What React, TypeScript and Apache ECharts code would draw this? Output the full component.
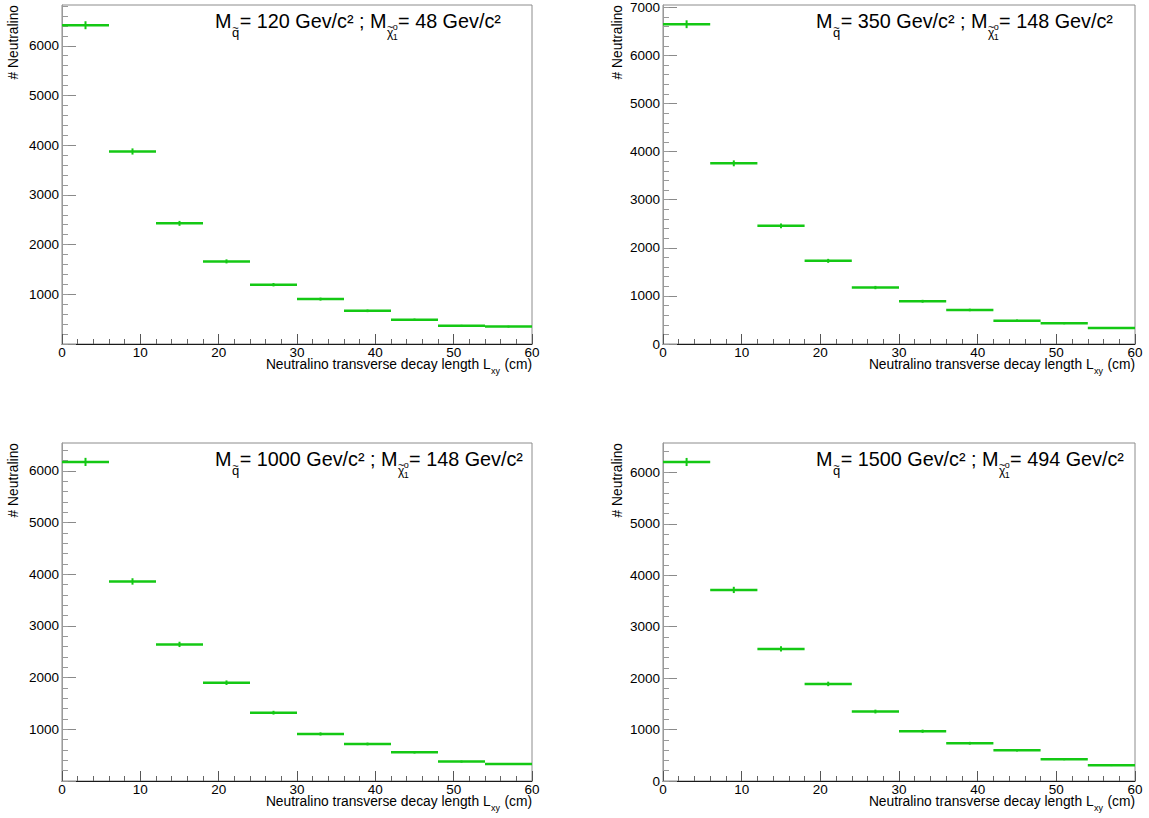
import React, { useEffect, useRef } from "react";
import * as echarts from "echarts";

// ---------------- data ----------------
const BIN_EDGES = [0, 6, 12, 18, 24, 30, 36, 42, 48, 54, 60];
const COUNTS_SQ120 = [6413, 3873, 2427, 1662, 1193, 903, 667, 490, 367, 350];
const COUNTS_SQ350 = [6650, 3757, 2458, 1729, 1174, 889, 708, 486, 431, 333];
const COUNTS_SQ1000 = [6174, 3861, 2643, 1902, 1322, 910, 716, 555, 375, 330];
const COUNTS_SQ1500 = [6201, 3714, 2567, 1887, 1350, 968, 734, 598, 424, 307];
const SQUARK_MASS = ["120", "350", "1000", "1500"];
const NEUTRALINO_MASS = ["48", "148", "148", "494"];
const X_TICKS = [0, 10, 20, 30, 40, 50, 60];
const Y_LABELS_1 = [1000, 2000, 3000, 4000, 5000, 6000];
const Y_LABELS_2 = [0, 1000, 2000, 3000, 4000, 5000, 6000, 7000];
const Y_LABELS_3 = [1000, 2000, 3000, 4000, 5000, 6000];
const Y_LABELS_4 = [0, 1000, 2000, 3000, 4000, 5000, 6000];
const Y_MAX = [6820, 7050, 6540, 6570];
const X_TITLE_MAIN = "Neutralino transverse decay length L";
const X_TITLE_SUB = "xy";
const X_TITLE_END = " (cm)";
const Y_TITLE = "# Neutralino";

// ---------------- layout / style ----------------
const PANELS = [
  { left: 62, top: 5, width: 470, height: 339, yTitleX: 13.7 },
  { left: 663, top: 5, width: 472, height: 339, yTitleX: 617.5 },
  { left: 62, top: 443, width: 470, height: 338, yTitleX: 13.7 },
  { left: 663, top: 443, width: 472, height: 338, yTitleX: 617 },
];
const ALL_COUNTS = [COUNTS_SQ120, COUNTS_SQ350, COUNTS_SQ1000, COUNTS_SQ1500];
const ALL_Y_LABELS = [Y_LABELS_1, Y_LABELS_2, Y_LABELS_3, Y_LABELS_4];
const FONT = '"Liberation Sans", Arial, Helvetica, sans-serif';
const GREEN = "#14c814";
const LABEL_SIZE = 13.5;
const AXIS_TITLE_SIZE = 13.8;
const BIG = 19.8;

export default function App() {
  const ref = useRef<HTMLDivElement>(null);

  useEffect(() => {
    if (!ref.current) return;
    const chart = echarts.init(ref.current, undefined, { renderer: "svg" });

    const canvas = document.createElement("canvas");
    const ctx = canvas.getContext("2d")!;
    const tw = (t: string, size: number) => {
      ctx.font = `${size}px "Liberation Sans"`;
      return ctx.measureText(t).width;
    };
    const txt = (
      x: number,
      baseline: number,
      text: string,
      size: number,
      align: string = "left"
    ) => ({
      type: "text",
      x,
      y: baseline - 0.35 * size,
      silent: true,
      style: {
        text,
        fontSize: size,
        fontFamily: FONT,
        fill: "#000",
        align,
        verticalAlign: "middle",
      },
    });

    const grids: any[] = [];
    const xAxes: any[] = [];
    const yAxes: any[] = [];
    const minorYAxes: any[] = [];
    const series: any[] = [];
    const graphics: any[] = [];

    PANELS.forEach((p, i) => {
      const ymax = Y_MAX[i];
      const majors: number[] = [];
      for (let v = 0; v <= ymax; v += 1000) majors.push(v);
      const minors: number[] = [];
      for (let v = 0; v <= ymax; v += 200) minors.push(v);

      grids.push({
        left: p.left,
        top: p.top,
        width: p.width,
        height: p.height,
        show: true,
        borderColor: "#8c8c8c",
        borderWidth: 1,
        backgroundColor: "transparent",
      });
      xAxes.push({
        gridIndex: i,
        type: "value",
        position: "bottom",
        min: 0,
        max: 60,
        interval: 10,
        axisLine: { show: true, onZero: false, lineStyle: { color: "#1a1a1a", width: 1 } },
        axisTick: {
          show: true,
          inside: true,
          length: 10,
          customValues: X_TICKS,
          lineStyle: { color: "#555", width: 1 },
        },
        minorTick: { show: true, splitNumber: 5, length: 5, lineStyle: { color: "#666", width: 1 } },
        axisLabel: {
          customValues: X_TICKS,
          formatter: (v: number) => String(v),
          margin: 1.5,
          color: "#000",
          fontSize: LABEL_SIZE,
          fontFamily: FONT,
        },
        splitLine: { show: false },
      });
      yAxes.push({
        gridIndex: i,
        type: "value",
        position: "left",
        offset: 0,
        min: 0,
        max: ymax,
        interval: 1000,
        axisLine: { show: true, onZero: false, lineStyle: { color: "#9a9a9a", width: 1 } },
        axisTick: {
          show: true,
          inside: true,
          length: 14,
          customValues: majors,
          lineStyle: { color: "#8a8a8a", width: 1 },
        },
        axisLabel: {
          customValues: ALL_Y_LABELS[i],
          formatter: (v: number) => String(v),
          margin: 3,
          color: "#000",
          fontSize: LABEL_SIZE,
          fontFamily: FONT,
        },
        splitLine: { show: false },
      });
      minorYAxes.push({
        gridIndex: i,
        type: "value",
        position: "left",
        offset: 0,
        min: 0,
        max: ymax,
        interval: 200,
        axisLine: { show: false },
        axisTick: {
          show: true,
          inside: true,
          length: 6,
          customValues: minors,
          lineStyle: { color: "#999", width: 1 },
        },
        axisLabel: { show: false },
        splitLine: { show: false },
      });

      series.push({
        type: "custom",
        xAxisIndex: i,
        yAxisIndex: i,
        encode: { x: [0, 1], y: 2 },
        data: ALL_COUNTS[i].map((c, k) => [BIN_EDGES[k], BIN_EDGES[k + 1], c]),
        renderItem: (params: any, api: any) => {
          const x0 = api.value(0);
          const x1 = api.value(1);
          const y = api.value(2);
          const err = Math.sqrt(y);
          const p0 = api.coord([x0, y]);
          const p1 = api.coord([x1, y]);
          const xc = (x0 + x1) / 2;
          const e0 = api.coord([xc, y - err]);
          const e1 = api.coord([xc, y + err]);
          return {
            type: "group",
            children: [
              {
                type: "line",
                shape: { x1: p0[0], y1: p0[1], x2: p1[0], y2: p1[1] },
                style: { stroke: GREEN, lineWidth: 2.5 },
              },
              {
                type: "line",
                shape: { x1: e0[0], y1: e0[1], x2: e1[0], y2: e1[1] },
                style: { stroke: GREEN, lineWidth: 2 },
              },
            ],
          };
        },
      });

      // x-axis title (right aligned at the frame end)
      const right = p.left + p.width;
      const xb = p.top + p.height + 25;
      const wMain = tw(X_TITLE_MAIN, AXIS_TITLE_SIZE);
      const subSize = 9;
      const wSub = tw(X_TITLE_SUB, subSize);
      const wEnd = tw(X_TITLE_END, AXIS_TITLE_SIZE);
      let xs = right - (wMain + wSub + wEnd + 1);
      graphics.push(txt(xs, xb, X_TITLE_MAIN, AXIS_TITLE_SIZE));
      xs += wMain + 0.5;
      graphics.push(txt(xs, xb + 5, X_TITLE_SUB, subSize));
      xs += wSub + 0.5;
      graphics.push(txt(xs, xb, X_TITLE_END, AXIS_TITLE_SIZE));

      // y-axis title (rotated, ending at the frame top)
      graphics.push({
        type: "text",
        x: p.yTitleX,
        y: p.top,
        rotation: Math.PI / 2,
        silent: true,
        style: {
          text: Y_TITLE,
          fontSize: AXIS_TITLE_SIZE,
          fontFamily: FONT,
          fill: "#000",
          align: "right",
          verticalAlign: "middle",
        },
      });

      // mass title
      const B = p.top + 23;
      let x = p.left + 153;
      graphics.push(txt(x, B, "M", BIG));
      x += tw("M", BIG) + 0.5;
      const qs = 13;
      graphics.push(txt(x, B + 9.5, "q", qs));
      graphics.push(txt(x + tw("q", qs) / 2, B + 3.5, "~", 11, "center"));
      x += tw("q", qs) + 0.5;
      const mid = `= ${SQUARK_MASS[i]} Gev/c\u00b2 ; M`;
      graphics.push(txt(x, B, mid, BIG));
      x += tw(mid, BIG) + 0.5;
      const cs = 12;
      graphics.push(txt(x, B + 9, "\u03c7", cs));
      graphics.push(txt(x + tw("\u03c7", cs) / 2, B + 2.5, "~", 11, "center"));
      const xsScript = x + tw("\u03c7", cs) - 0.5;
      graphics.push(txt(xsScript, B + 2.5, "o", 9));
      graphics.push(txt(xsScript, B + 12.5, "1", 9));
      x = xsScript + Math.max(tw("o", 9), tw("1", 9)) + 0.3;
      graphics.push(txt(x, B, `= ${NEUTRALINO_MASS[i]} Gev/c\u00b2`, BIG));
    });

    chart.setOption({
      animation: false,
      backgroundColor: "#fff",
      grid: grids,
      xAxis: xAxes,
      yAxis: [...yAxes, ...minorYAxes],
      series,
      graphic: { elements: graphics },
    });

    return () => chart.dispose();
  }, []);

  return (
    <div
      ref={ref}
      style={{ position: "fixed", left: 0, top: 0, width: 1149, height: 818, background: "#fff" }}
    />
  );
}
